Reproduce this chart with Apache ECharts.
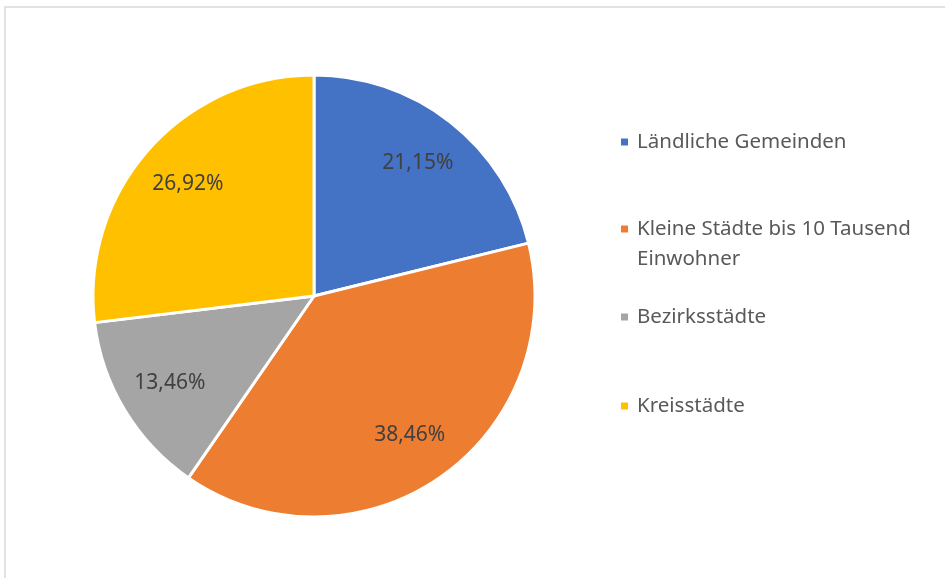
<!DOCTYPE html>
<html>
<head>
<meta charset="utf-8">
<script src="https://cdn.jsdelivr.net/npm/echarts@6/dist/echarts.min.js"></script>
<style>
  html, body { margin: 0; padding: 0; background: #fff; }
  #main { width: 945px; height: 578px; }
</style>
</head>
<body>
<div id="main"></div>
<script>
    // Anteile in Prozent
    var categories = ['Ländliche Gemeinden', 'Kleine Städte bis 10 Tausend Einwohner', 'Bezirksstädte', 'Kreisstädte'];
    var shares = [21.15, 38.46, 13.46, 26.92];
    var colors = ['#4472C4', '#ED7D31', '#A5A5A5', '#FFC000'];

    var myChart = echarts.init(document.getElementById('main'));

    var pieData = [];
    for (var i = 0; i < categories.length; i++) {
        pieData.push({ name: categories[i], value: shares[i] });
    }

    var fontFamily = '"Noto Sans", sans-serif';
    var lh = 30;
    var legendTops = [127, 184, 302, 391];
    var legends = [];
    for (var k = 0; k < categories.length; k++) {
        legends.push({
            orient: 'vertical',
            left: 619,
            top: legendTops[k],
            padding: 0,
            icon: 'rect',
            itemWidth: 9,
            itemHeight: 9,
            selectedMode: false,
            data: [categories[k]],
            formatter: function (name) {
                // leere erste Zeile, damit das Symbol auf der ersten Textzeile sitzt
                return name === 'Kleine Städte bis 10 Tausend Einwohner'
                    ? ' \nKleine Städte bis 10 Tausend\nEinwohner' : name;
            },
            textStyle: {
                color: '#595959',
                fontSize: 20.5,
                fontFamily: fontFamily,
                lineHeight: lh,
                padding: [0, 0, 0, 3]
            }
        });
    }

    var option = {
        backgroundColor: '#fff',
        animation: false,
        color: colors,
        legend: legends,
        graphic: [{
            type: 'rect',
            shape: { x: 5, y: 7, width: 2000, height: 2000 },
            style: { fill: 'none', stroke: '#d9d9d9', lineWidth: 1.5 },
            silent: true
        }],
        series: [{
            name: 'Anteil',
            type: 'pie',
            center: [314, 296],
            radius: [0, 221],
            startAngle: 90,
            clockwise: true,
            silent: true,
            label: { show: false },
            labelLine: { show: false },
            itemStyle: { borderColor: '#fff', borderWidth: 3 },
            data: pieData
        }, {
            name: 'Beschriftung',
            type: 'pie',
            center: [314, 296],
            radius: [110, 221],
            startAngle: 90,
            clockwise: true,
            silent: true,
            itemStyle: { color: 'rgba(0,0,0,0)', borderWidth: 0 },
            label: {
                show: true,
                position: 'inside',
                color: '#404040',
                fontSize: 21,
                fontFamily: fontFamily,
                formatter: function (p) {
                    return p.value.toFixed(2).replace('.', ',') + '%';
                }
            },
            labelLine: { show: false },
            data: pieData
        }]
    };

    myChart.setOption(option);
</script>
</body>
</html>
